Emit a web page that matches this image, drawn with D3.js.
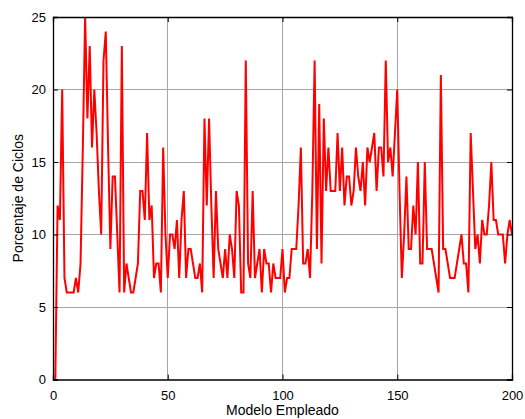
<!DOCTYPE html>
<html>
<head>
<meta charset="utf-8">
<script src="https://cdn.jsdelivr.net/npm/d3@7"></script>
<style>
  body { margin: 0; background: #fff; }
  text { font-family: "Liberation Sans", Arial, sans-serif; }
</style>
</head>
<body>
<svg id="chart" width="525" height="419"></svg>
<script>
// tick values of both axes
const xTicks = [0, 50, 100, 150, 200];
const yTicks = [0, 5, 10, 15, 20, 25];

// Porcentaje de ciclos per modelo (modelo 1..200)
const porcentaje = [
  0, 12, 11, 20, 7, 6, 6, 6, 6, 7,
  6, 8, 16, 25, 18, 23, 16, 20, 17, 13,
  10, 22, 24, 16, 9, 14, 14, 10, 6, 23,
  6, 8, 7, 6, 6, 7, 8, 13, 13, 11,
  17, 11, 12, 7, 8, 8, 6, 16, 10, 7,
  10, 10, 9, 11, 7, 11, 13, 7, 9, 9,
  8, 7, 7, 8, 6, 18, 12, 18, 12, 7,
  13, 9, 8, 7, 9, 7, 10, 9, 7, 13,
  12, 6, 6, 22, 8, 7, 13, 7, 8, 9,
  6, 9, 8, 8, 6, 8, 7, 7, 7, 9,
  6, 7, 7, 9, 9, 9, 12, 16, 8, 8,
  9, 7, 13, 22, 9, 19, 8, 18, 13, 16,
  13, 13, 13, 17, 13, 16, 12, 14, 14, 12,
  13, 16, 14, 13, 15, 12, 16, 15, 16, 17,
  13, 16, 16, 14, 22, 15, 16, 14, 17, 20,
  13, 7, 10, 14, 9, 9, 12, 10, 15, 8,
  8, 15, 9, 9, 9, 8, 7, 6, 21, 9,
  9, 8, 7, 7, 7, 8, 9, 10, 8, 8,
  6, 17, 13, 9, 10, 8, 11, 10, 10, 12,
  15, 11, 11, 10, 10, 10, 8, 10, 11, 10
];

const xLabel = "Modelo Empleado";
const yLabel = "Porcentaje de Ciclos";

const width = 525, height = 419;
const margin = { top: 17, right: 13, bottom: 39.5, left: 53 };
const plotW = width - margin.left - margin.right;
const plotH = height - margin.top - margin.bottom;

const svg = d3.select("#chart");
const g = svg.append("g").attr("transform", `translate(${margin.left},${margin.top})`);

const x = d3.scaleLinear().domain([0, 200]).range([0, plotW]);
const y = d3.scaleLinear().domain([0, 25]).range([plotH, 0]);

// grid lines
g.append("g")
  .selectAll("line")
  .data(xTicks.slice(1, -1))
  .join("line")
  .attr("x1", (d) => x(d)).attr("x2", (d) => x(d))
  .attr("y1", 0).attr("y2", plotH)
  .attr("stroke", "#a6a6a6")
  .attr("stroke-width", 1)
  .attr("shape-rendering", "crispEdges");

g.append("g")
  .selectAll("line")
  .data(yTicks.slice(1, -1))
  .join("line")
  .attr("x1", 0).attr("x2", plotW)
  .attr("y1", (d) => y(d)).attr("y2", (d) => y(d))
  .attr("stroke", "#a6a6a6")
  .attr("stroke-width", 1)
  .attr("shape-rendering", "crispEdges");

// the data line
const line = d3.line()
  .x((d, i) => x(i + 1))
  .y((d) => y(d));

g.append("path")
  .datum(porcentaje)
  .attr("d", line)
  .attr("fill", "none")
  .attr("stroke", "#ff0000")
  .attr("stroke-width", 2)
  .attr("stroke-linejoin", "miter");

// axes, MATLAB style: ticks pointing inwards on all four sides
const tickLen = 5;

g.append("g")
  .attr("transform", `translate(0,${plotH})`)
  .call(d3.axisBottom(x).tickValues(xTicks).tickSize(-tickLen).tickPadding(tickLen + 6).tickFormat(d3.format("d")));

g.append("g")
  .call(d3.axisTop(x).tickValues(xTicks).tickSize(-tickLen).tickFormat(""));

g.append("g")
  .call(d3.axisLeft(y).tickValues(yTicks).tickSize(-tickLen).tickPadding(7).tickFormat(d3.format("d")));

g.append("g")
  .attr("transform", `translate(${plotW},0)`)
  .call(d3.axisRight(y).tickValues(yTicks).tickSize(-tickLen).tickFormat(""));

g.selectAll(".domain").attr("stroke", "#000").attr("stroke-width", 1.3);
g.selectAll(".tick line").attr("stroke", "#000");
g.selectAll(".tick text").attr("font-size", 13).attr("fill", "#000")
  .attr("font-family", "'Liberation Sans', Arial, sans-serif");

// axis titles
svg.append("text")
  .attr("x", margin.left + plotW / 2)
  .attr("y", 415)
  .attr("text-anchor", "middle")
  .attr("font-size", 14)
  .text(xLabel);

svg.append("text")
  .attr("transform", `translate(23,${margin.top + plotH / 2}) rotate(-90)`)
  .attr("text-anchor", "middle")
  .attr("font-size", 14)
  .text(yLabel);
</script>
</body>
</html>
